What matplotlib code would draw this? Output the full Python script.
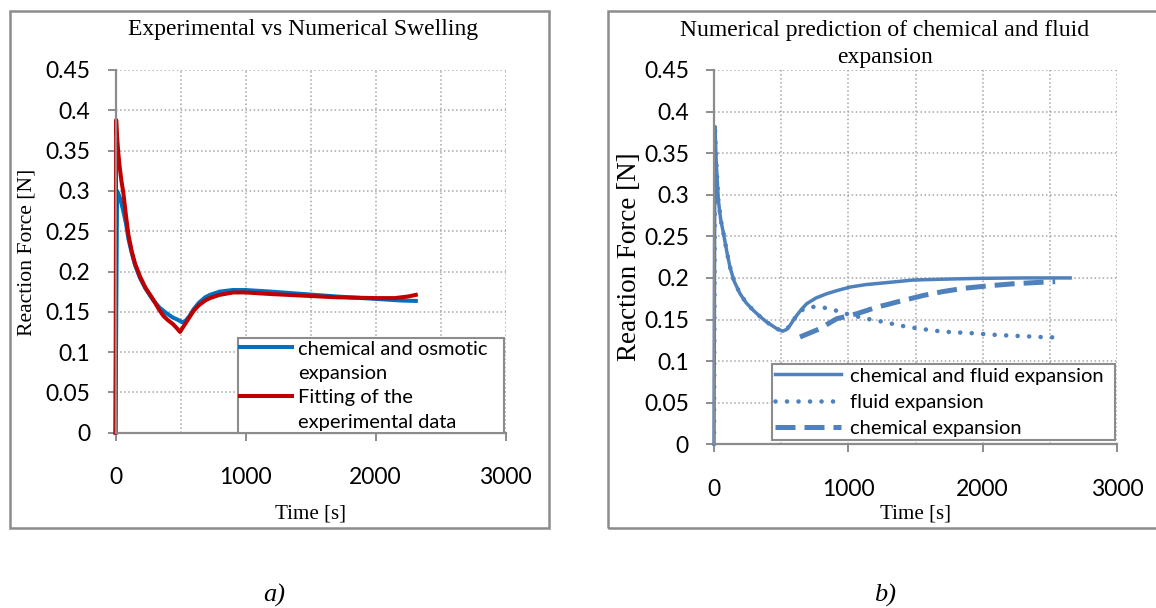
import numpy as np
import matplotlib
matplotlib.use('Agg')
import matplotlib.pyplot as plt
from matplotlib.lines import Line2D
from matplotlib.patches import Rectangle

# data (time in s, force in N)
t_osm = [0, 12, 25, 40, 60, 80, 100, 125, 150, 188, 230, 291, 340, 394, 440, 480, 515, 540, 570, 600, 640,
         690, 727, 800, 900, 1000, 1200, 1450, 1700, 2000, 2200, 2310]
f_osm = [0, 0.300, 0.295, 0.288, 0.275, 0.260, 0.240, 0.223, 0.208, 0.192, 0.179, 0.164, 0.155, 0.148, 0.143,
         0.140, 0.137, 0.139, 0.145, 0.153, 0.161, 0.168, 0.171, 0.175, 0.177, 0.177, 0.175, 0.172, 0.169,
         0.166, 0.164, 0.1635]

t_fit = [0, 5, 10, 20, 30, 45, 60, 80, 100, 125, 150, 188, 230, 291, 330, 368, 400, 440, 470, 496, 520, 560,
         600, 640, 690, 727, 800, 906, 1000, 1100, 1200, 1450, 1700, 2000, 2150, 2250, 2310]
f_fit = [0, 0.388, 0.372, 0.350, 0.333, 0.313, 0.298, 0.270, 0.245, 0.225, 0.210, 0.194, 0.180, 0.165, 0.154,
         0.145, 0.140, 0.135, 0.130, 0.125, 0.131, 0.141, 0.151, 0.158, 0.164, 0.167, 0.171, 0.174, 0.174,
         0.173, 0.172, 0.170, 0.168, 0.167, 0.167, 0.169, 0.171]

t_both = [0, 7, 15, 32, 50, 70, 95, 119, 150, 194, 240, 293, 340, 392, 430, 467, 511, 540, 566, 590, 616, 650,
          690, 760, 839, 920, 1012, 1130, 1261, 1484, 1700, 1981, 2300, 2651]
f_both = [0, 0.382, 0.345, 0.294, 0.270, 0.254, 0.232, 0.213, 0.196, 0.181, 0.170, 0.161, 0.154, 0.147, 0.143,
          0.139, 0.136, 0.138, 0.143, 0.149, 0.155, 0.162, 0.169, 0.176, 0.181, 0.185, 0.189, 0.192, 0.194,
          0.1975, 0.1985, 0.1995, 0.200, 0.200]

t_fluid = [0, 7, 15, 32, 50, 70, 95, 119, 150, 194, 240, 293, 340, 392, 430, 467, 511, 540, 566, 590, 616, 650,
           710, 777, 863, 943, 1025, 1112, 1192, 1273, 1360, 1447, 1534, 1621, 1703, 1788, 1872, 1957, 2044,
           2131, 2218, 2305, 2390, 2470, 2557]
f_fluid = [0, 0.382, 0.345, 0.294, 0.270, 0.254, 0.232, 0.213, 0.196, 0.181, 0.170, 0.161, 0.154, 0.147, 0.143,
           0.139, 0.136, 0.138, 0.143, 0.149, 0.155, 0.161, 0.165, 0.1654, 0.163, 0.159, 0.155, 0.152, 0.149,
           0.147, 0.1435, 0.141, 0.139, 0.137, 0.1355, 0.1347, 0.134, 0.1333, 0.132, 0.1313, 0.1305, 0.130,
           0.1294, 0.1286, 0.1286]

t_chem = [640, 700, 789, 850, 914, 990, 1063, 1140, 1212, 1290, 1360, 1460, 1559, 1700, 1856, 2040, 2229,
          2400, 2540]
f_chem = [0.129, 0.133, 0.139, 0.145, 0.151, 0.154, 0.157, 0.161, 0.165, 0.168, 0.171, 0.175, 0.179, 0.1835,
          0.1875, 0.1905, 0.193, 0.1945, 0.1955]

yticks = [0, 0.05, 0.1, 0.15, 0.2, 0.25, 0.3, 0.35, 0.4, 0.45]
ytick_labels = ['0', '0.05', '0.1', '0.15', '0.2', '0.25', '0.3', '0.35', '0.4', '0.45']
xticks = [0, 1000, 2000, 3000]
xticks_minor = [500, 1500, 2500]

W, H = 1156, 608
SANS = 'Lato'
SERIF = 'Liberation Serif'
GRAY = '#8c8c8c'

fig = plt.figure(figsize=(W/100, H/100), dpi=100)


def px(x0, y0, x1, y1):
    """pixel box -> figure fraction rect"""
    return [x0/W, 1 - y1/H, (x1 - x0)/W, (y1 - y0)/H]


def style_axes(ax):
    ax.set_xlim(0, 3000)
    ax.set_ylim(0, 0.45)
    ax.set_xticks(xticks)
    ax.set_xticks(xticks_minor, minor=True)
    ax.set_yticks(yticks)
    ax.set_yticklabels(ytick_labels)
    ax.grid(True, which='both', color='#a6a6a6', linestyle=':', linewidth=1.1)
    ax.set_axisbelow(True)
    for s in ['top', 'right']:
        ax.spines[s].set_visible(False)
    for s in ['left', 'bottom']:
        ax.spines[s].set_color(GRAY)
        ax.spines[s].set_linewidth(1.6)
    ax.tick_params(axis='both', which='major', color=GRAY, width=1.4, length=6,
                   labelsize=16.5, labelfontfamily=SANS)
    ax.tick_params(axis='x', which='major', pad=19)
    ax.tick_params(axis='y', which='major', pad=12)
    ax.tick_params(axis='x', which='minor', length=0)


# ---- panel a) ----
ax1 = fig.add_axes(px(115.5, 70, 505.5, 432.7))
style_axes(ax1)
ax1.plot(t_osm, f_osm, color='#0070C0', lw=2.9, clip_on=False, solid_joinstyle='round')
ax1.plot(t_fit, f_fit, color='#C00000', lw=2.9, clip_on=False, solid_joinstyle='round')

#   legend has the handle on the first line of each two-line label
blank = Line2D([], [], color='none')
h1 = [Line2D([], [], color='#0070C0', lw=2.9), blank, Line2D([], [], color='#C00000', lw=2.9), blank]
l1 = ['chemical and osmotic', 'expansion', 'Fitting of the', 'experimental data']
leg1 = ax1.legend(h1, l1, loc='upper left', bbox_to_anchor=(238/W, 1 - 339/H, 266/W, 0.001),
                  bbox_transform=fig.transFigure, mode='expand', borderaxespad=0,
                  prop={'family': SANS, 'size': 14.5}, frameon=True, fancybox=False,
                  framealpha=1, edgecolor=GRAY, handlelength=2.6, handletextpad=0.3,
                  labelspacing=0.36, borderpad=0.1)
leg1.get_frame().set_linewidth(1.5)

fig.text(303/W, 1 - 30/H, 'Experimental vs Numerical Swelling', ha='center', va='center',
         family=SERIF, fontsize=17)
fig.text(27/W, 1 - 252/H, 'Reaction Force [N]', rotation=90, ha='center', va='center',
         family=SERIF, fontsize=15.6)
fig.text(310.5/W, 1 - 514/H, 'Time [s]', ha='center', va='center', family=SERIF, fontsize=15.1)

# ---- panel b) ----
ax2 = fig.add_axes(px(714, 70, 1117, 444.3))
style_axes(ax2)
ax2.plot(t_both, f_both, color='#4F81BD', lw=2.5, clip_on=False, solid_joinstyle='round',
         label='chemical and fluid expansion')
ax2.plot(t_fluid, f_fluid, color='#4F81BD', lw=3.3, linestyle=(0, (0.01, 2.5)),
         dash_capstyle='round', label='fluid expansion')
ax2.plot(t_chem, f_chem, color='#4F81BD', lw=3.6, linestyle=(0, (4.0, 1.8)), label='chemical expansion')

leg2 = ax2.legend(loc='upper left', bbox_to_anchor=(772/W, 1 - 365/H, 343/W, 0.001),
                  bbox_transform=fig.transFigure, mode='expand', borderaxespad=0,
                  prop={'family': SANS, 'size': 14.5}, frameon=True, fancybox=False,
                  framealpha=1, edgecolor=GRAY, handlelength=3.3, handletextpad=0.4,
                  labelspacing=0.45, borderpad=0.15)
leg2.get_frame().set_linewidth(1.5)

fig.text(885/W, 1 - 44/H, 'Numerical prediction of chemical and fluid\nexpansion', ha='center',
         va='center', family=SERIF, fontsize=17, linespacing=1.42)
fig.text(629/W, 1 - 257/H, 'Reaction Force [N]', rotation=90, ha='center', va='center',
         family=SERIF, fontsize=19.5)
fig.text(915.5/W, 1 - 514/H, 'Time [s]', ha='center', va='center', family=SERIF, fontsize=15.1)

# panel frames and captions
fig.add_artist(Rectangle((10/W, 1 - 528/H), 539/W, 517/H, transform=fig.transFigure,
                         fill=False, ec=GRAY, lw=1.8))
fig.add_artist(Rectangle((608/W, 1 - 528/H), 560/W, 517/H, transform=fig.transFigure,
                         fill=False, ec=GRAY, lw=1.8))
fig.text(274/W, 1 - 595/H, 'a)', ha='center', va='center', family=SERIF, style='italic', fontsize=19)
fig.text(885/W, 1 - 595/H, 'b)', ha='center', va='center', family=SERIF, style='italic', fontsize=19)

fig.savefig('out.png', dpi=100)
